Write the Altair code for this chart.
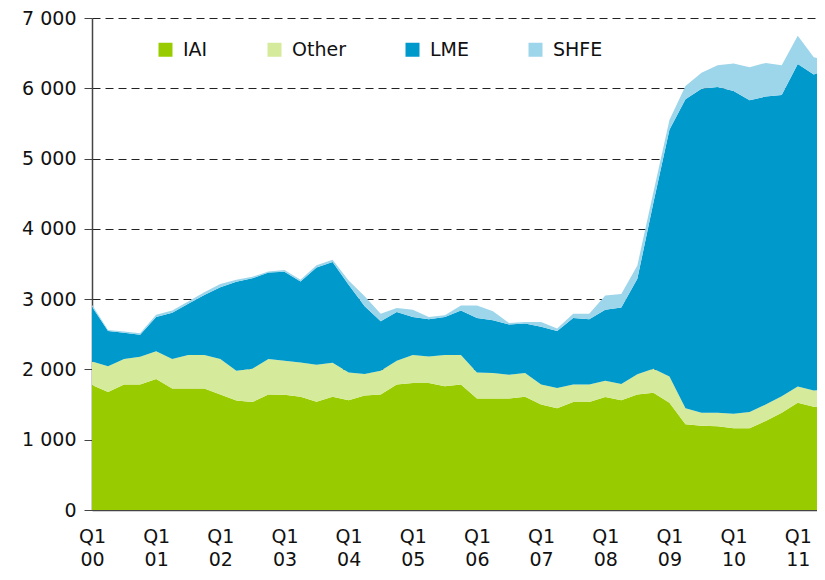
import altair as alt
import pandas as pd

# quarter index 0 = Q1 2000 ... 46 = Q3 2011
quarters = list(range(47))

iai = [1780, 1678, 1784, 1784, 1864, 1728, 1728, 1728, 1643, 1559,
       1535, 1643, 1640, 1613, 1540, 1612, 1561, 1629, 1643, 1784,
       1808, 1808, 1761, 1784, 1587, 1587, 1587, 1610, 1502, 1446,
       1535, 1535, 1606, 1561, 1643, 1667, 1526, 1221, 1197, 1190,
       1164, 1164, 1268, 1385, 1526, 1470, 1470]
other = [333, 367, 366, 396, 396, 422, 479, 479, 507, 422,
         474, 507, 482, 486, 526, 484, 394, 305, 338, 338,
         399, 375, 446, 423, 371, 361, 338, 338, 282, 291,
         249, 249, 234, 232, 287, 342, 375, 225, 188, 195,
         207, 230, 234, 235, 230, 230, 245]
lme = [777, 500, 371, 315, 486, 655, 727, 851, 1019, 1268,
       1287, 1230, 1268, 1153, 1385, 1432, 1250, 966, 705, 695,
       539, 531, 539, 633, 774, 752, 713, 705, 822, 808,
       948, 930, 1010, 1087, 1360, 2361, 3509, 4399, 4610, 4633,
       4591, 4437, 4381, 4286, 4591, 4497, 4575]
shfe = [30, 17, 17, 20, 33, 35, 33, 41, 47, 28,
        23, 14, 23, 25, 33, 31, 60, 140, 107, 56,
        104, 32, 24, 71, 179, 126, 24, 23, 70, 37,
        61, 79, 202, 192, 190, 150, 140, 188, 226, 310,
        390, 469, 478, 422, 399, 244, 95]

series_names = ["IAI", "Other", "LME", "SHFE"]
series_colors = ["#99CC00", "#D5EA9B", "#0099CC", "#9DD5EB"]
tick_quarters = [0, 4, 8, 12, 16, 20, 24, 28, 32, 36, 40, 44]
y_ticks = [0, 1000, 2000, 3000, 4000, 5000, 6000, 7000]

rows = []
for k, (name, vals) in enumerate(zip(series_names, [iai, other, lme, shfe])):
    for q, v in zip(quarters, vals):
        rows.append({"q": q, "series": name, "value": v, "ord": k})
df = pd.DataFrame(rows)

FONT = "DejaVu Sans"

chart = alt.Chart(df).mark_area(clip=True, interpolate="linear").encode(
    x=alt.X("q:Q",
            scale=alt.Scale(domain=[0, 45.2], nice=False, zero=False),
            axis=alt.Axis(values=tick_quarters, title=None, grid=False,
                          ticks=False, domain=True, domainColor="#444444",
                          domainWidth=1.5,
                          labelExpr="['Q1', (datum.value/4 < 10 ? '0' : '') + (datum.value/4)]",
                          labelPadding=17, labelLineHeight=23,
                          labelFontSize=19, labelColor="#111111", labelFont=FONT,
                          labelFlush=False, labelOverlap=False)),
    y=alt.Y("value:Q", stack="zero",
            scale=alt.Scale(domain=[0, 7000], nice=False),
            axis=alt.Axis(values=y_ticks, title=None, grid=True,
                          gridDash=[8, 5], gridColor="#222222", gridWidth=1,
                          ticks=True, tickSize=8, tickColor="#444444",
                          domain=True, domainColor="#444444", domainWidth=1.5,
                          labelExpr="replace(format(datum.value, ','), ',', ' ')",
                          labelPadding=8, labelFontSize=19, labelColor="#111111",
                          labelFont=FONT)),
    color=alt.Color("series:N",
                    scale=alt.Scale(domain=series_names, range=series_colors),
                    legend=alt.Legend(orient="none", legendX=64, legendY=22,
                                      direction="horizontal", title=None,
                                      symbolType="square", symbolSize=196,
                                      symbolStrokeWidth=0, labelFontSize=19,
                                      labelFont=FONT, labelColor="#111111",
                                      columnPadding=57, labelOffset=8)),
    order=alt.Order("ord:Q", sort="ascending"),
).properties(
    width=725, height=492,
    autosize=alt.AutoSizeParams(type="none"),
    padding={"left": 84, "top": 10, "right": 0, "bottom": 62},
).configure_view(stroke=None)

chart.save("out.html", embed_options={"renderer": "svg", "actions": False})
